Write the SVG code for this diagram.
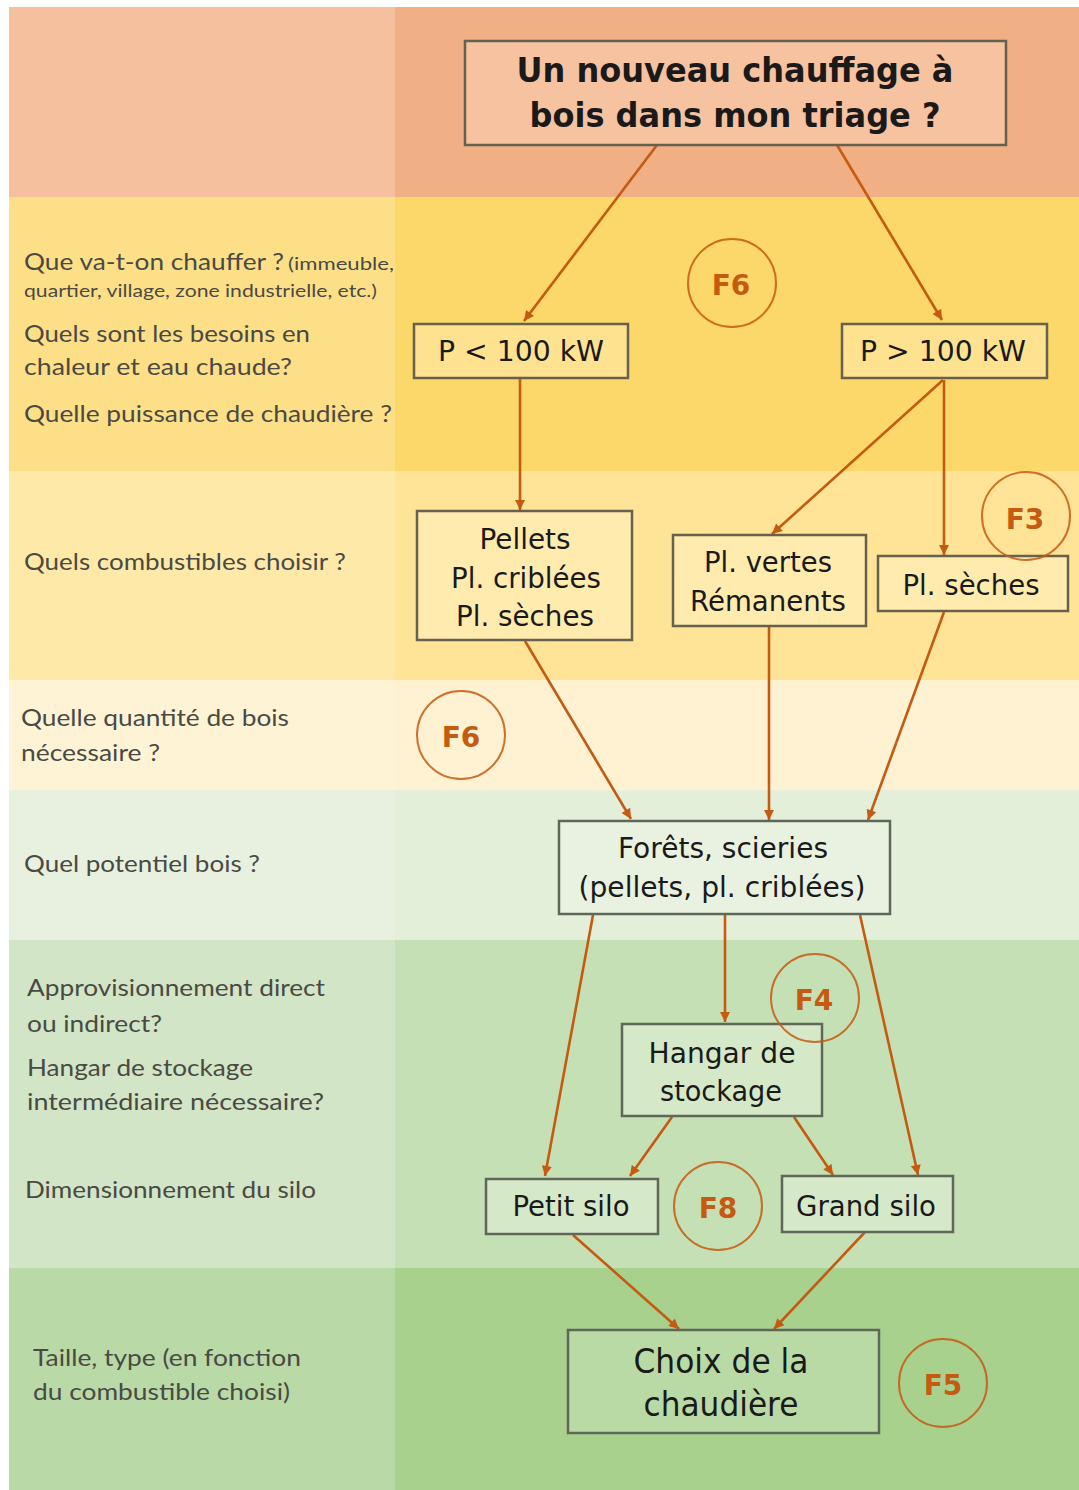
<svg xmlns="http://www.w3.org/2000/svg" width="1079" height="1490" viewBox="0 0 1079 1490">
<defs>
<style>
.lt{font-family:Lato,"Open Sans","Liberation Sans",sans-serif;font-size:23px;fill:#4a4a44}
.sm{font-size:17px}
.box{stroke:#66614f;stroke-width:2.5}
.gbox{stroke:#5f6858;stroke-width:2.5}
.nt{font-family:"DejaVu Sans","Liberation Sans",sans-serif;font-size:29px;fill:#1a1a1a;text-anchor:middle}
.tt{font-family:"DejaVu Sans","Liberation Sans",sans-serif;font-size:33px;font-weight:bold;fill:#1a1a1a;text-anchor:middle}
.fc{fill:none;stroke:#C55A11;stroke-width:2;stroke-opacity:0.85}
.ft{font-family:"DejaVu Sans","Liberation Sans",sans-serif;font-size:28px;font-weight:bold;fill:#C55A11;text-anchor:middle}
.cn{stroke:#C55A11;stroke-width:2.6;fill:none;marker-end:url(#ah)}
</style>
<marker id="ah" viewBox="0 0 10 10" refX="10" refY="5" markerWidth="11" markerHeight="10" markerUnits="userSpaceOnUse" orient="auto">
<path d="M0,0 L10,5 L0,10 z" fill="#C55A11"/>
</marker>
</defs>
<rect x="0" y="0" width="1079" height="1490" fill="#ffffff"/>
<g id="bands">
<rect x="9" y="7" width="386" height="190" fill="#F5C09E"/>
<rect x="395" y="7" width="684" height="190" fill="#F1AF86"/>
<rect x="9" y="197" width="386" height="274" fill="#FDDF88"/>
<rect x="395" y="197" width="684" height="274" fill="#FCD86A"/>
<rect x="9" y="471" width="386" height="209" fill="#FFE9A8"/>
<rect x="395" y="471" width="684" height="209" fill="#FFE497"/>
<rect x="9" y="680" width="386" height="110" fill="#FFF3D6"/>
<rect x="395" y="680" width="684" height="110" fill="#FFF2D2"/>
<rect x="9" y="790" width="386" height="150" fill="#E8F1E0"/>
<rect x="395" y="790" width="684" height="150" fill="#E3EFD9"/>
<rect x="9" y="940" width="386" height="328" fill="#D2E5C6"/>
<rect x="395" y="940" width="684" height="328" fill="#C5E0B4"/>
<rect x="9" y="1268" width="386" height="222" fill="#B9D9A7"/>
<rect x="395" y="1268" width="684" height="222" fill="#A9D18E"/>
</g>
<g id="left-labels">
<text class="lt" x="24" y="270" textLength="260" lengthAdjust="spacingAndGlyphs">Que va-t-on chauffer ?</text>
<text class="lt sm" x="288" y="270" textLength="106" lengthAdjust="spacingAndGlyphs">(immeuble,</text>
<text class="lt sm" x="24" y="297" textLength="353" lengthAdjust="spacingAndGlyphs">quartier, village, zone industrielle, etc.)</text>
<text class="lt" x="24" y="342" textLength="286" lengthAdjust="spacingAndGlyphs">Quels sont les besoins en</text>
<text class="lt" x="24" y="375" textLength="268" lengthAdjust="spacingAndGlyphs">chaleur et eau chaude?</text>
<text class="lt" x="24" y="422" textLength="368" lengthAdjust="spacingAndGlyphs">Quelle puissance de chaudière ?</text>
<text class="lt" x="24" y="570" textLength="322" lengthAdjust="spacingAndGlyphs">Quels combustibles choisir ?</text>
<text class="lt" x="21" y="726" textLength="268" lengthAdjust="spacingAndGlyphs">Quelle quantité de bois</text>
<text class="lt" x="21" y="761" textLength="139" lengthAdjust="spacingAndGlyphs">nécessaire ?</text>
<text class="lt" x="24" y="872" textLength="236" lengthAdjust="spacingAndGlyphs">Quel potentiel bois ?</text>
<text class="lt" x="27" y="996" textLength="298" lengthAdjust="spacingAndGlyphs">Approvisionnement direct</text>
<text class="lt" x="27" y="1032" textLength="135" lengthAdjust="spacingAndGlyphs">ou indirect?</text>
<text class="lt" x="27" y="1076" textLength="226" lengthAdjust="spacingAndGlyphs">Hangar de stockage</text>
<text class="lt" x="27" y="1110" textLength="297" lengthAdjust="spacingAndGlyphs">intermédiaire nécessaire?</text>
<text class="lt" x="25" y="1198" textLength="291" lengthAdjust="spacingAndGlyphs">Dimensionnement du silo</text>
<text class="lt" x="33" y="1366" textLength="268" lengthAdjust="spacingAndGlyphs">Taille, type (en fonction</text>
<text class="lt" x="33" y="1400" textLength="257" lengthAdjust="spacingAndGlyphs">du combustible choisi)</text>
</g>
<g id="connectors">
<line class="cn" x1="657" y1="145" x2="524" y2="321"/>
<line class="cn" x1="837" y1="145" x2="942" y2="320"/>
<line class="cn" x1="520" y1="379" x2="520" y2="510"/>
<line class="cn" x1="943" y1="380" x2="772" y2="534"/>
<line class="cn" x1="944" y1="380" x2="944" y2="555"/>
<line class="cn" x1="525" y1="641" x2="631" y2="819"/>
<line class="cn" x1="769" y1="627" x2="769" y2="820"/>
<line class="cn" x1="944" y1="612" x2="868" y2="820"/>
<line class="cn" x1="725" y1="915" x2="725" y2="1022"/>
<line class="cn" x1="593" y1="915" x2="545" y2="1176"/>
<line class="cn" x1="860" y1="915" x2="918" y2="1175"/>
<line class="cn" x1="672" y1="1117" x2="630" y2="1176"/>
<line class="cn" x1="794" y1="1117" x2="833" y2="1175"/>
<line class="cn" x1="573" y1="1235" x2="679" y2="1329"/>
<line class="cn" x1="865" y1="1232" x2="774" y2="1329"/>
</g>
<g id="n-title">
<rect class="box" x="465" y="41" width="541" height="104" fill="#F6C2A0" stroke="#6b5a4c"/>
<text class="tt" x="735" y="82" textLength="437" lengthAdjust="spacingAndGlyphs">Un nouveau chauffage à</text>
<text class="tt" x="735" y="127" textLength="411" lengthAdjust="spacingAndGlyphs">bois dans mon triage ?</text>
</g>
<g id="n-p-low">
<rect class="box" x="414" y="324" width="214" height="54" fill="#FFE290"/>
<text class="nt" x="521" y="361" textLength="166" lengthAdjust="spacingAndGlyphs">P &lt; 100 kW</text>
</g>
<g id="n-p-high">
<rect class="box" x="842" y="324" width="205" height="54" fill="#FFE290"/>
<text class="nt" x="943" y="361" textLength="166" lengthAdjust="spacingAndGlyphs">P &gt; 100 kW</text>
</g>
<g id="n-pellets">
<rect class="box" x="417" y="511" width="215" height="129" fill="#FFEBAE"/>
<text class="nt" x="525" y="549" textLength="91" lengthAdjust="spacingAndGlyphs">Pellets</text>
<text class="nt" x="526" y="588" textLength="150" lengthAdjust="spacingAndGlyphs">Pl. criblées</text>
<text class="nt" x="525" y="626" textLength="138" lengthAdjust="spacingAndGlyphs">Pl. sèches</text>
</g>
<g id="n-vertes">
<rect class="box" x="673" y="535" width="193" height="91" fill="#FFEBAE"/>
<text class="nt" x="768" y="572" textLength="128" lengthAdjust="spacingAndGlyphs">Pl. vertes</text>
<text class="nt" x="768" y="611" textLength="156" lengthAdjust="spacingAndGlyphs">Rémanents</text>
</g>
<g id="n-seches">
<rect class="box" x="878" y="556" width="190" height="55" fill="#FFEBAE"/>
<text class="nt" x="971" y="595" textLength="137" lengthAdjust="spacingAndGlyphs">Pl. sèches</text>
</g>
<g id="n-forets">
<rect class="gbox" x="559" y="821" width="331" height="93" fill="#E9F2E1"/>
<text class="nt" x="723" y="858" textLength="210" lengthAdjust="spacingAndGlyphs">Forêts, scieries</text>
<text class="nt" x="722" y="897" textLength="287" lengthAdjust="spacingAndGlyphs">(pellets, pl. criblées)</text>
</g>
<g id="n-hangar">
<rect class="gbox" x="622" y="1024" width="200" height="92" fill="#D5E8C8"/>
<text class="nt" x="722" y="1063" textLength="147" lengthAdjust="spacingAndGlyphs">Hangar de</text>
<text class="nt" x="721" y="1101" textLength="122" lengthAdjust="spacingAndGlyphs">stockage</text>
</g>
<g id="n-petit">
<rect class="gbox" x="486" y="1179" width="172" height="55" fill="#D5E8C8"/>
<text class="nt" x="571" y="1216" textLength="117" lengthAdjust="spacingAndGlyphs">Petit silo</text>
</g>
<g id="n-grand">
<rect class="gbox" x="782" y="1176" width="171" height="56" fill="#D5E8C8"/>
<text class="nt" x="866" y="1216" textLength="140" lengthAdjust="spacingAndGlyphs">Grand silo</text>
</g>
<g id="n-choix">
<rect class="gbox" x="568" y="1330" width="311" height="103" fill="#B9D9A5"/>
<text class="nt" x="721" y="1373" style="font-size:33px" textLength="175" lengthAdjust="spacingAndGlyphs">Choix de la</text>
<text class="nt" x="721" y="1416" style="font-size:33px" textLength="155" lengthAdjust="spacingAndGlyphs">chaudière</text>
</g>
<g id="f-refs">
<g id="f6a"><circle class="fc" cx="732" cy="283" r="44"/><text class="ft" x="731" y="295">F6</text></g>
<g id="f6b"><circle class="fc" cx="461" cy="735" r="44"/><text class="ft" x="461" y="747">F6</text></g>
<g id="f3"><circle class="fc" cx="1026" cy="516" r="44"/><text class="ft" x="1025" y="529">F3</text></g>
<g id="f4"><circle class="fc" cx="815" cy="998" r="44"/><text class="ft" x="814" y="1010">F4</text></g>
<g id="f8"><circle class="fc" cx="718" cy="1206" r="44"/><text class="ft" x="718" y="1218">F8</text></g>
<g id="f5"><circle class="fc" cx="943" cy="1383" r="44"/><text class="ft" x="943" y="1395">F5</text></g>
</g>
</svg>
